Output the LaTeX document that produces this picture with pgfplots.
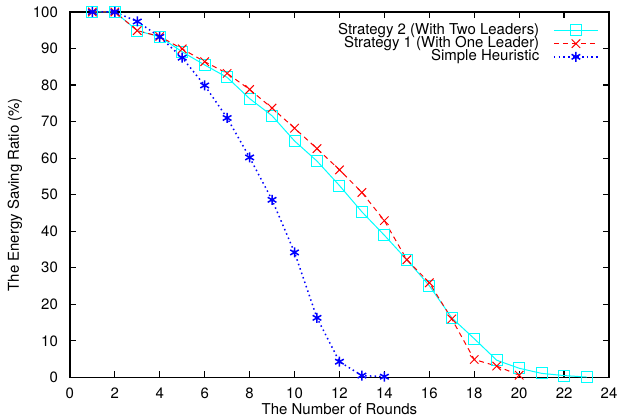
\documentclass[border=0pt]{standalone}
\usepackage{fontspec}
\setmainfont{TeX Gyre Heros}
\usepackage{pgfplots}
\pgfplotsset{compat=1.18}
\definecolor{gcyan}{RGB}{0,255,255}
\definecolor{gred}{RGB}{255,0,0}
\definecolor{gblue}{RGB}{0,0,255}
\begin{document}
\begin{tikzpicture}
\begin{axis}[
    name=ax,
    scale only axis,
    width=270pt, height=183pt,
    xmin=0, xmax=24, ymin=0, ymax=100,
    xtick={0,2,...,24}, ytick={0,10,...,100},
    tick align=inside, tick pos=both,
    major tick length=3pt,
    axis line style={line width=0.75pt},
    every tick/.style={line width=0.6pt, black},
    /pgf/number format/assume math mode=true,
    tick label style={font=\fontsize{7.5}{9}\selectfont},
    yticklabel style={xshift=-2.5pt},
    xticklabel style={yshift=-1.5pt},
    label style={font=\fontsize{7.5}{9}\selectfont},
    xlabel={The Number of Rounds},
    ylabel={The Energy Saving Ratio (\%)},
    xlabel style={at={(axis description cs:0.5,-0.0874)}, anchor=center},
    ylabel style={at={(axis description cs:-0.102,0.5)}, anchor=center},
    clip=false,
    legend style={draw=none, fill=none, inner sep=0pt, at={(rel axis cs:1,1)},
        anchor=north east, xshift=-5pt, yshift=-3.5pt,
        font=\fontsize{7.5}{8}\selectfont, row sep=-4.5pt, column sep=5pt},
    legend cell align=right,
    legend plot pos=right,
    legend image code/.code={\draw[mark repeat=2,mark phase=2,#1]
        plot coordinates {(0pt,0pt) (11pt,0pt) (22pt,0pt)};},
]
\addplot[gcyan, line width=0.5pt, mark=square, mark size=2.75pt, mark options={solid}] coordinates {
(1,100) (2,100) (3,94.9) (4,93.2) (5,89.1) (6,85.5) (7,82.1) (8,76.3) (9,71.6) (10,64.7)
(11,59.2) (12,52.5) (13,45.3) (14,38.9) (15,32.2) (16,25.1) (17,16.3) (18,10.6) (19,4.7)
(20,2.5) (21,1.1) (22,0.5) (23,0.1)
};
\addlegendentry{Strategy 2 (With Two Leaders)}
\addplot[gred, line width=0.5pt, dash pattern=on 2.5pt off 2pt, mark=x, mark size=3pt, mark options={solid}] coordinates {
(1,100) (2,100) (3,94.9) (4,93.3) (5,89.9) (6,86.4) (7,83.2) (8,78.8) (9,73.7) (10,68.2)
(11,62.6) (12,56.8) (13,50.6) (14,42.9) (15,32.2) (16,25.9) (17,16.0) (18,4.9) (19,3.1)
(20,0.6)
};
\addlegendentry{Strategy 1 (With One Leader)}
\addplot[gblue, line width=0.75pt, dash pattern=on 0.75pt off 1.6pt, mark=asterisk, mark size=2.5pt, mark options={solid}] coordinates {
(1,100) (2,100) (3,97.4) (4,93.2) (5,87.5) (6,79.9) (7,71.0) (8,60.2) (9,48.6) (10,34.2)
(11,16.3) (12,4.3) (13,0.5) (14,0.2)
};
\addlegendentry{Simple Heuristic}
\end{axis}
\pgfresetboundingbox
\path ([xshift=-35pt,yshift=-20.5pt]ax.south west) ([xshift=5pt,yshift=6pt]ax.north east);
\end{tikzpicture}
\end{document}
